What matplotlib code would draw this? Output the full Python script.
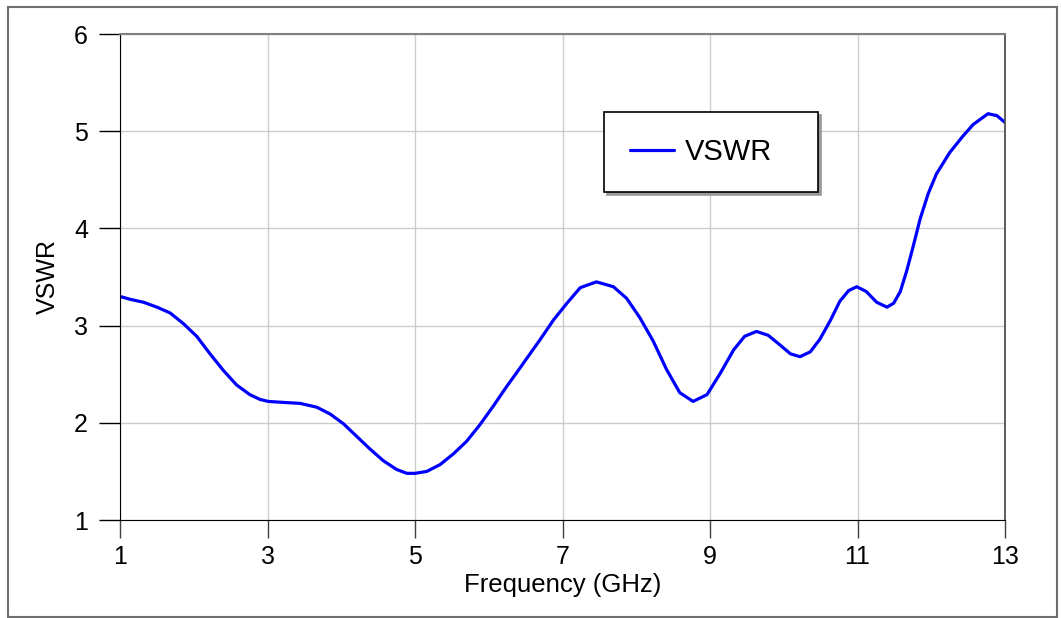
import matplotlib
matplotlib.use("Agg")
import matplotlib.pyplot as plt
from matplotlib.patches import Rectangle

plt.rcParams['font.family'] = ['Liberation Sans', 'DejaVu Sans']

freq = [1.0, 1.14, 1.32, 1.50, 1.68, 1.86, 2.04, 2.22, 2.40, 2.58,
        2.76, 2.90, 3.01, 3.21, 3.44, 3.67, 3.85, 4.03, 4.21, 4.39,
        4.57, 4.75, 4.89, 5.0, 5.16, 5.34, 5.52, 5.70, 5.88, 6.06,
        6.24, 6.42, 6.56, 6.70, 6.88, 7.06, 7.24, 7.46, 7.69, 7.87,
        8.05, 8.23, 8.41, 8.59, 8.77, 8.96, 9.14, 9.32, 9.47, 9.63,
        9.79, 9.95, 10.09, 10.22, 10.36, 10.49, 10.63, 10.76, 10.88, 10.99,
        11.12, 11.26, 11.40, 11.49, 11.58, 11.67, 11.76, 11.85, 11.96, 12.07,
        12.25, 12.43, 12.57, 12.77, 12.89, 13.0]
vswr = [3.30, 3.27, 3.24, 3.19, 3.13, 3.02, 2.89, 2.71, 2.54, 2.39,
        2.29, 2.24, 2.22, 2.21, 2.20, 2.16, 2.09, 1.99, 1.86, 1.73,
        1.61, 1.52, 1.48, 1.48, 1.50, 1.57, 1.68, 1.81, 1.98, 2.17,
        2.37, 2.56, 2.71, 2.86, 3.06, 3.23, 3.39, 3.45, 3.40, 3.28,
        3.08, 2.84, 2.55, 2.31, 2.22, 2.29, 2.51, 2.75, 2.89, 2.94,
        2.90, 2.80, 2.71, 2.68, 2.73, 2.86, 3.05, 3.25, 3.36, 3.40,
        3.35, 3.24, 3.19, 3.23, 3.35, 3.57, 3.83, 4.10, 4.36, 4.56,
        4.78, 4.95, 5.07, 5.18, 5.16, 5.09]

xticks = [1, 3, 5, 7, 9, 11, 13]
yticks = [1, 2, 3, 4, 5, 6]

fig = plt.figure(figsize=(10.61, 6.18), dpi=100)
ax = fig.add_axes([120/1061, 98/618, 885/1061, 486/618])

ax.plot(freq, vswr, color='#0000ff', lw=2.3, label='VSWR',
        solid_joinstyle='round', solid_capstyle='round')

ax.set_xlim(1, 13)
ax.set_ylim(1, 6)
ax.set_xticks(xticks)
ax.set_yticks(yticks)
ax.grid(True, color='#cccccc', lw=1)

ax.tick_params(axis='y', length=15, width=1, color='black', pad=8, labelsize=18)
ax.tick_params(axis='x', length=13, width=1, color='#404040', pad=5, labelsize=18)

ax.spines['left'].set_color('black')
ax.spines['bottom'].set_color('black')
ax.spines['top'].set_color('#808080')
ax.spines['right'].set_color('#505050')
ax.spines['top'].set_linewidth(1.5)
ax.spines['right'].set_linewidth(1.3)

ax.set_xlabel('Frequency (GHz)', fontsize=18.5, labelpad=3)
ax.set_ylabel('VSWR', fontsize=18, labelpad=10)

leg = ax.legend(loc='upper left', bbox_to_anchor=(0.547, 0.679, 0.242, 0.161),
                mode='expand', borderaxespad=0, borderpad=0.9, fontsize=21,
                handlelength=1.5, handletextpad=0.36, fancybox=False,
                shadow={'color': '#999999', 'alpha': 1.0}, framealpha=1)
leg.get_frame().set_edgecolor('black')
leg.get_frame().set_linewidth(1.2)

# outer frame
fig.patches.append(Rectangle((8/1061, 1/618), 1049/1061, 610/618,
                             transform=fig.transFigure, fill=False,
                             edgecolor='#6e6e6e', lw=1.5))

fig.savefig('out.png', dpi=100)
